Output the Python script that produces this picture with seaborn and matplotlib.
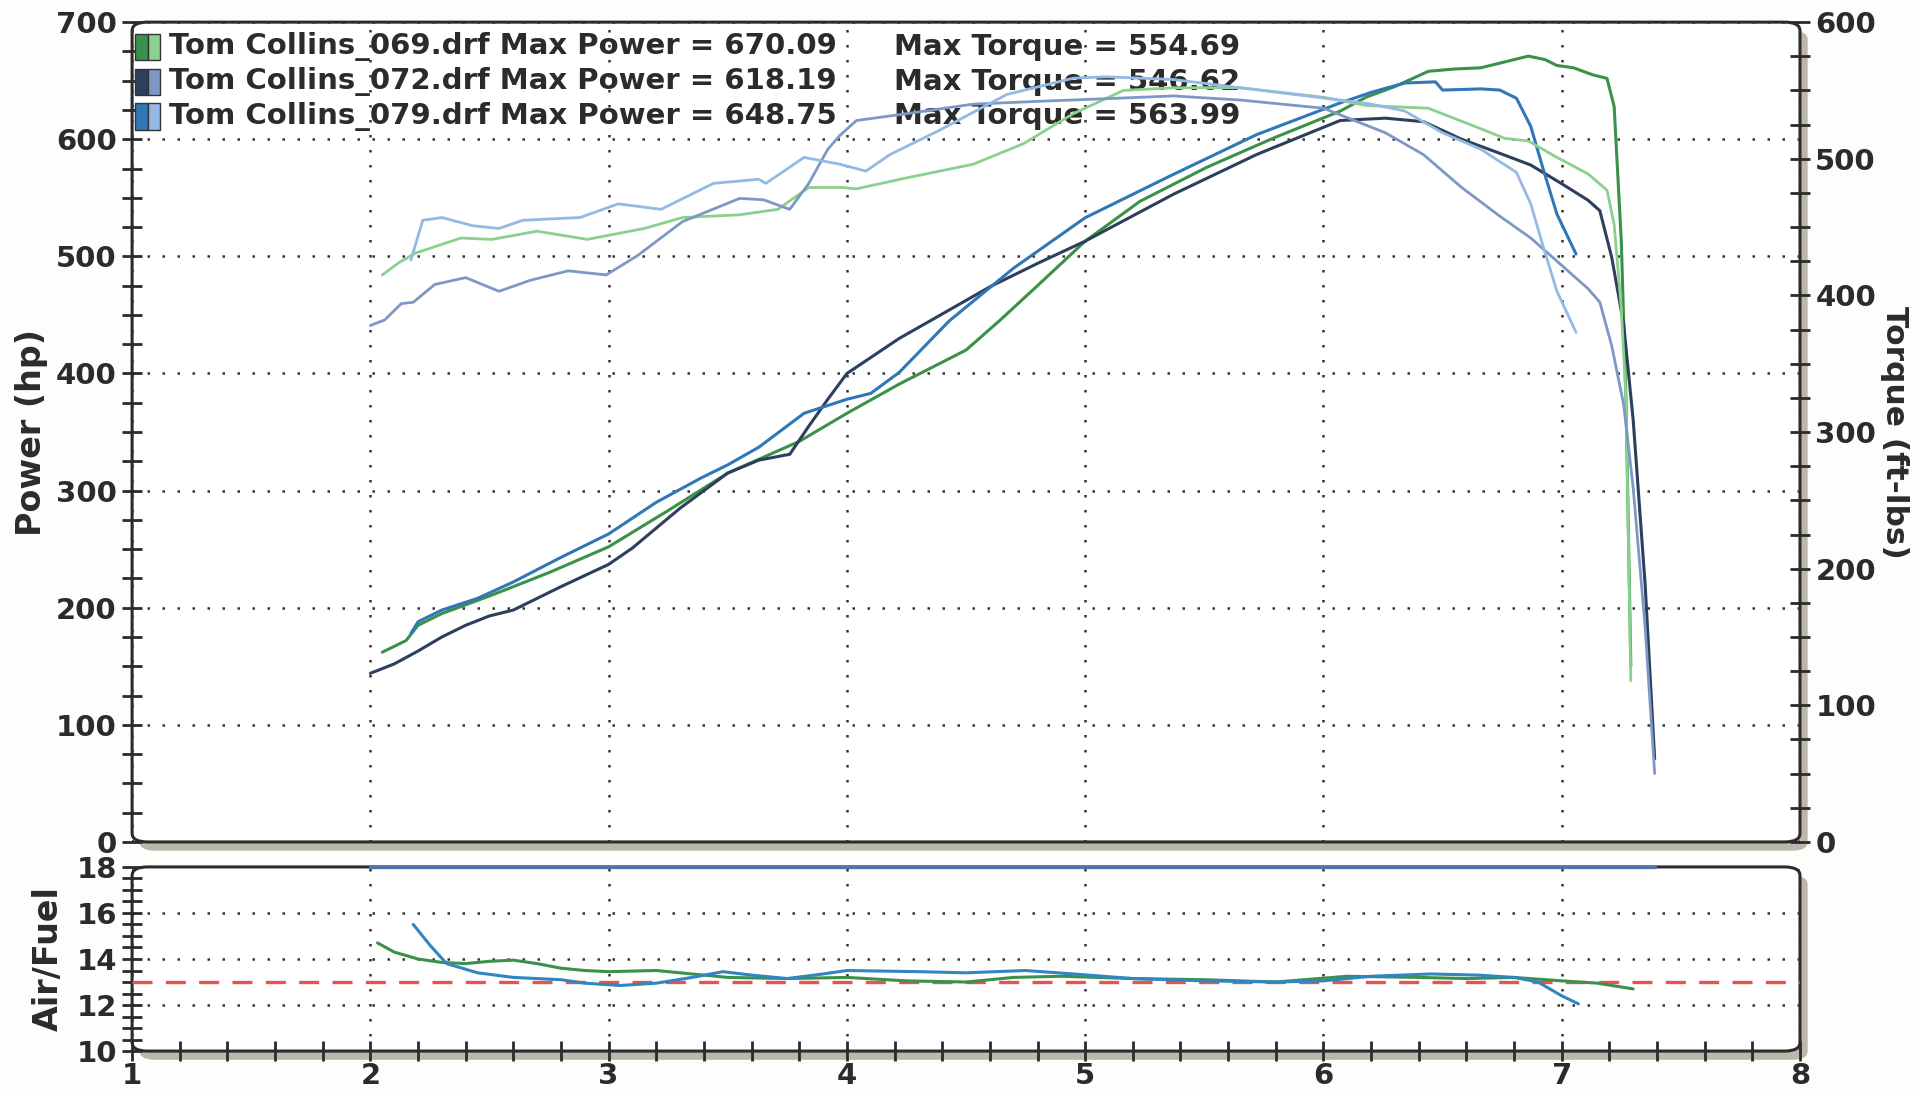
import matplotlib
matplotlib.use("Agg")
import matplotlib.pyplot as plt
from matplotlib.patches import FancyBboxPatch, Rectangle
from matplotlib.ticker import MultipleLocator
import seaborn as sns

# engine speed (x1000 rpm) vs power (hp) for each run
rpm_pw_069 = [2.05, 2.15, 2.2, 2.3, 2.5, 2.75, 3.0, 3.25, 3.5, 3.8, 4.0, 4.22, 4.5, 4.64, 4.8, 5.0, 5.23,
              5.51, 5.79, 6.07, 6.18, 6.3, 6.44, 6.55, 6.66, 6.76, 6.86, 6.93, 6.98, 7.05, 7.13, 7.19,
              7.22, 7.25, 7.27, 7.29]
hp_069 = [162, 172, 185, 195, 210, 230, 252, 283, 315, 342, 366, 391, 420, 445, 475, 513, 547,
          576, 601, 624, 636, 645, 658, 660, 661, 666, 671, 668, 663, 661, 655, 652,
          628, 513, 376, 150]

rpm_pw_072 = [2.0, 2.1, 2.2, 2.3, 2.4, 2.5, 2.6, 2.8, 3.0, 3.1, 3.3, 3.5, 3.63, 3.76, 3.84, 3.92, 4.0,
              4.22, 4.35, 4.6, 4.8, 5.0, 5.37, 5.72, 6.07, 6.26, 6.42, 6.58, 6.74, 6.87, 7.0,
              7.11, 7.16, 7.21, 7.26, 7.3, 7.35, 7.39]
hp_072 = [144, 152, 163, 175, 185, 193, 198, 218, 237, 251, 285, 315, 326, 331, 355, 378, 400,
          430, 445, 474, 494, 513, 553, 587, 616, 618, 615, 600, 588, 578, 562,
          548, 539, 499, 442, 360, 220, 71]

rpm_pw_079 = [2.17, 2.2, 2.3, 2.45, 2.6, 2.8, 3.0, 3.2, 3.39, 3.5, 3.63, 3.82, 4.0, 4.1, 4.22, 4.43,
              4.7, 5.0, 5.37, 5.72, 6.07, 6.2, 6.34, 6.47, 6.5, 6.66, 6.74, 6.81, 6.87,
              6.92, 6.98, 7.06]
hp_079 = [178, 188, 198, 208, 222, 243, 263, 290, 311, 322, 337, 366, 378, 383, 401, 445,
          490, 533, 570, 604, 631, 640, 648, 649, 642, 643, 642, 635, 611,
          576, 536, 502]

# engine speed vs torque (ft-lbs)
rpm_tq_069 = [2.05, 2.12, 2.19, 2.38, 2.51, 2.7, 2.91, 3.15, 3.31, 3.55, 3.71, 3.84, 3.98, 4.04, 4.25,
              4.53, 4.74, 4.95, 5.16, 5.37, 5.65, 6.0, 6.18, 6.44, 6.66, 6.76, 6.86, 6.98, 7.11, 7.19,
              7.22, 7.25, 7.27, 7.29]
tq_069 = [415, 424, 431, 442, 441, 447, 441, 449, 457, 459, 463, 479, 479, 478, 486,
          496, 511, 533, 550, 552, 552, 545, 539, 537, 522, 515, 513, 501, 489, 477,
          452, 391, 322, 118]

rpm_tq_072 = [2.0, 2.06, 2.13, 2.18, 2.27, 2.4, 2.54, 2.67, 2.83, 2.99, 3.12, 3.31, 3.55, 3.65, 3.76,
              3.84, 3.92, 3.97, 4.04, 4.25, 4.53, 4.8, 5.09, 5.37, 5.65, 6.0, 6.26, 6.42, 6.58, 6.74,
              6.87, 7.0, 7.11, 7.16, 7.21, 7.26, 7.3, 7.35, 7.39]
tq_072 = [378, 382, 394, 395, 408, 413, 403, 411, 418, 415, 429, 454, 471, 470, 463,
          482, 507, 517, 528, 533, 540, 542, 544, 546, 543, 537, 519, 503, 479, 458,
          442, 422, 405, 395, 363, 320, 259, 157, 50]

rpm_tq_079 = [2.17, 2.22, 2.3, 2.43, 2.54, 2.64, 2.88, 3.04, 3.22, 3.44, 3.63, 3.66, 3.82, 3.97, 4.08,
              4.18, 4.39, 4.67, 4.95, 5.09, 5.37, 5.65, 6.07, 6.2, 6.34, 6.5, 6.66, 6.81, 6.87,
              6.92, 6.98, 7.06]
tq_079 = [426, 455, 457, 451, 449, 455, 457, 467, 463, 482, 485, 482, 501, 496, 491,
          503, 521, 547, 559, 560, 558, 552, 543, 540, 535, 519, 507, 490, 467,
          437, 403, 373]

# air/fuel ratio
rpm_af_069 = [2.03, 2.1, 2.2, 2.3, 2.4, 2.5, 2.6, 2.7, 2.8, 2.9, 3.0, 3.2, 3.35, 3.5, 3.75, 4.0, 4.25,
              4.5, 4.7, 4.9, 5.2, 5.5, 5.8, 6.1, 6.4, 6.6, 6.8, 7.0, 7.15, 7.3]
af_069 = [14.7, 14.3, 14.0, 13.85, 13.8, 13.9, 13.95, 13.8, 13.6, 13.5, 13.45, 13.5, 13.35, 13.2,
          13.15, 13.2, 13.05, 13.0, 13.2, 13.25, 13.15, 13.1, 13.0, 13.25, 13.2, 13.15, 13.2,
          13.05, 12.95, 12.7]
rpm_af_079 = [2.18, 2.25, 2.32, 2.45, 2.6, 2.8, 2.9, 3.05, 3.2, 3.35, 3.48, 3.6, 3.75, 3.9, 4.0, 4.3,
              4.5, 4.75, 4.95, 5.2, 5.5, 5.8, 6.0, 6.2, 6.45, 6.65, 6.8, 6.9, 7.0, 7.07]
af_079 = [15.5, 14.6, 13.8, 13.4, 13.2, 13.1, 12.95, 12.85, 12.95, 13.2, 13.45, 13.3, 13.15, 13.35,
          13.5, 13.45, 13.4, 13.5, 13.35, 13.15, 13.05, 13.0, 13.05, 13.25, 13.35, 13.3, 13.2,
          13.0, 12.4, 12.05]
rpm_af_072 = [2.0, 7.39]   # pegged at the top of the scale
af_072 = [18, 18]
af_target = 13.0

runs = ["Tom Collins_069.drf", "Tom Collins_072.drf", "Tom Collins_079.drf"]
max_power = ["670.09", "618.19", "648.75"]
max_torque = ["554.69", "546.62", "563.99"]

c_pw = ["#3b9149", "#2c3f5d", "#2f77b6"]
c_tq = ["#8ad08e", "#7d98c6", "#93b9e4"]
c_af = ["#3b9149", "#4f74aa", "#2f86c0"]
ink = "#2b2b2b"

sns.set_theme(style="white")
plt.rcParams["font.family"] = ["DejaVu Sans"]
plt.rcParams["font.weight"] = "bold"

fig = plt.figure(figsize=(19.2, 10.96), dpi=100)
fig.patch.set_facecolor("#fdfdfb")

ax = fig.add_axes([0.0688, 0.2318, 0.8687, 0.748])
axa = fig.add_axes([0.0688, 0.041, 0.8687, 0.168], sharex=ax)
ax2 = ax.twinx()

# rounded panel frames with a grey drop shadow (drawn under the axes)
for a in (ax, axa):
    a.set_facecolor("none")
    pos = a.get_position()
    box = "round,pad=0,rounding_size=0.008"
    fig.add_artist(FancyBboxPatch((pos.x0 + 0.004, pos.y0 - 0.008), pos.width, pos.height,
                                  boxstyle=box, transform=fig.transFigure,
                                  facecolor="#bdb7ab", edgecolor="none", zorder=-3))
    fig.add_artist(FancyBboxPatch((pos.x0, pos.y0), pos.width, pos.height,
                                  boxstyle=box, transform=fig.transFigure,
                                  facecolor="white", edgecolor=ink, linewidth=2.2, zorder=-2))
    for s in a.spines.values():
        s.set_visible(False)
for s in ax2.spines.values():
    s.set_visible(False)

dots = (0, (1, 5))

# power curves
for r, h, c in zip([rpm_pw_069, rpm_pw_072, rpm_pw_079], [hp_069, hp_072, hp_079], c_pw):
    sns.lineplot(x=r, y=h, ax=ax, color=c, linewidth=2.2, sort=False, estimator=None)
# torque curves
for r, t, c in zip([rpm_tq_069, rpm_tq_072, rpm_tq_079], [tq_069, tq_072, tq_079], c_tq):
    sns.lineplot(x=r, y=t, ax=ax2, color=c, linewidth=2.0, sort=False, estimator=None)

# air/fuel
axa.axhline(af_target, color="#e8524f", linewidth=2.4, linestyle=(0, (6, 4)), zorder=1)
sns.lineplot(x=rpm_af_072, y=af_072, ax=axa, color=c_af[1], linewidth=2.4, estimator=None)
axa.lines[-1].set_clip_on(False)
sns.lineplot(x=rpm_af_069, y=af_069, ax=axa, color=c_af[0], linewidth=2.2, sort=False, estimator=None)
sns.lineplot(x=rpm_af_079, y=af_079, ax=axa, color=c_af[2], linewidth=2.2, sort=False, estimator=None)

# scales
ax.set_xlim(1, 8)
ax.set_ylim(0, 700)
ax2.set_ylim(0, 600)
axa.set_ylim(10, 18)

ax.xaxis.set_major_locator(MultipleLocator(1))
ax.yaxis.set_major_locator(MultipleLocator(100))
ax.yaxis.set_minor_locator(MultipleLocator(25))
ax2.yaxis.set_major_locator(MultipleLocator(100))
ax2.yaxis.set_minor_locator(MultipleLocator(25))
axa.yaxis.set_major_locator(MultipleLocator(2))
axa.yaxis.set_minor_locator(MultipleLocator(0.5))
axa.xaxis.set_minor_locator(MultipleLocator(0.2))

tick_kw = dict(direction="inout", length=14, width=2, color=ink, labelsize=21, labelcolor=ink)
ax.tick_params(axis="y", which="both", left=True, pad=4, **tick_kw)
ax.tick_params(axis="x", which="both", bottom=False, labelbottom=False)
ax2.tick_params(axis="y", which="both", right=True, pad=4, **tick_kw)
axa.tick_params(axis="both", which="both", left=True, bottom=True, **tick_kw)
axa.tick_params(axis="x", pad=1)
axa.tick_params(axis="y", pad=4)
for lab in ax.get_yticklabels() + ax2.get_yticklabels() + axa.get_yticklabels() + axa.get_xticklabels():
    lab.set_fontweight("bold")

grid_kw = dict(color="#333333", linestyle=dots, linewidth=1.8)
ax.grid(True, which="major", **grid_kw)
axa.grid(True, which="major", axis="x", **grid_kw)
for v in (12, 14, 16):
    axa.axhline(v, zorder=0, **grid_kw)

ax.set_ylabel("Power (hp)", fontsize=24, fontweight="bold", color=ink, labelpad=6)
ax2.set_ylabel("Torque (ft-lbs)", fontsize=22.5, fontweight="bold", color=ink,
               rotation=270, labelpad=24)
axa.set_ylabel("Air/Fuel", fontsize=24, fontweight="bold", color=ink, labelpad=8)
ax.set_xlabel("")
axa.set_xlabel("")

# legend block
rows_y = [0.970, 0.927, 0.885]
for i in range(3):
    y = rows_y[i]
    ax.add_patch(Rectangle((0.002, y - 0.016), 0.0075, 0.032, transform=ax.transAxes,
                           facecolor=c_pw[i], edgecolor="#333333", linewidth=1, zorder=6))
    ax.add_patch(Rectangle((0.0095, y - 0.016), 0.0075, 0.032, transform=ax.transAxes,
                           facecolor=c_tq[i], edgecolor="#333333", linewidth=1, zorder=6))
    ax.text(0.022, y, f"{runs[i]} Max Power = {max_power[i]}", transform=ax.transAxes,
            fontsize=21, fontweight="bold", color=ink, va="center", ha="left", zorder=7)
    ax.text(0.457, y, f"Max Torque = {max_torque[i]}", transform=ax.transAxes,
            fontsize=21, fontweight="bold", color=ink, va="center", ha="left", zorder=7)

fig.savefig("out.png", dpi=100, facecolor=fig.get_facecolor())
